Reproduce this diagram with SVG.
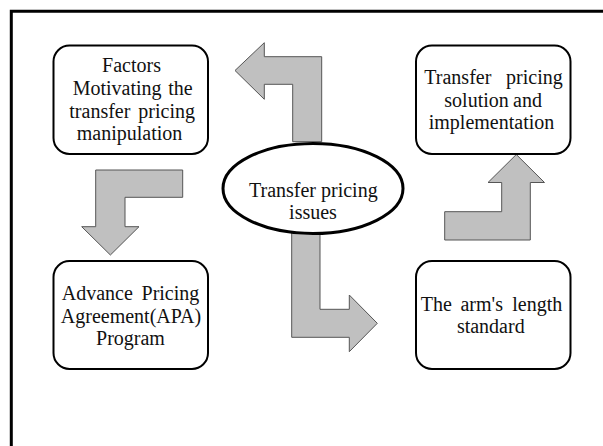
<svg xmlns="http://www.w3.org/2000/svg" width="603" height="446" viewBox="0 0 603 446">
<style>
.box{fill:#fff;stroke:#000;stroke-width:2}
.ell{fill:#fff;stroke:#000;stroke-width:3}
.arr{fill:#c0c0c0;stroke:#555;stroke-width:1;stroke-linejoin:miter}
text{font-family:"Liberation Serif","Times New Roman",serif;font-size:20px;fill:#111}
.m{text-anchor:middle}
.e{text-anchor:end}
.frame{stroke:#000;stroke-width:3;fill:none}
</style>
<rect x="0" y="0" width="603" height="446" fill="#fff"/>
<path class="frame" d="M11.3,446 V11.3 H603"/>
<g id="connectors">
<polygon class="arr" points="321.7,141.7 321.7,56.7 264.3,56.7 264.3,42.7 235,70.5 264.3,99.3 264.3,84.3 292.7,84.3 292.7,141.7"/>
<polygon class="arr" points="182.7,170 95.7,170 95.7,226.7 81.7,226.7 110.4,255 139,226.7 125,226.7 125,197.3 182.7,197.3"/>
<polygon class="arr" points="291.7,228 320,228 320,309.3 349.3,309.3 349.3,295 377.3,323.3 349.3,351.7 349.3,337.3 291.7,337.3"/>
<polygon class="arr" points="444.7,240 530.3,240 530.3,182.5 544.5,182.5 516.3,154.5 488,182.5 501.7,182.5 501.7,211.7 444.7,211.7"/>
</g>
<g id="issues">
<ellipse class="ell" cx="313" cy="188.5" rx="90" ry="45"/>
<text class="m" x="313.3" y="196.5">Transfer pricing</text>
<text class="m" x="313" y="218.5">issues</text>
</g>
<g id="factors">
<rect class="box" x="53.5" y="45.5" width="154.5" height="108.5" rx="16" ry="16"/>
<text class="m" x="131.5" y="72">Factors</text>
<text x="72.7" y="94.5">Motivating</text><text class="e" x="192.7" y="94.5">the</text>
<text x="69.3" y="117.5">transfer</text><text class="e" x="195" y="117.5">pricing</text>
<text class="m" x="129.5" y="140">manipulation</text>
</g>
<g id="solution">
<rect class="box" x="416" y="45.5" width="154.5" height="108.5" rx="16" ry="16"/>
<text x="424.3" y="84">Transfer</text><text class="e" x="562.7" y="84">pricing</text>
<text x="444.3" y="106.5">solution</text><text class="e" x="542" y="106.5">and</text>
<text class="m" x="491.5" y="129">implementation</text>
</g>
<g id="apa">
<rect class="box" x="53.5" y="261" width="154.5" height="108" rx="16" ry="16"/>
<text x="61.7" y="300">Advance</text><text class="e" x="199.3" y="300">Pricing</text>
<text class="m" x="131" y="322.5">Agreement(APA)</text>
<text class="m" x="130.5" y="345">Program</text>
</g>
<g id="armslength">
<rect class="box" x="416" y="261" width="154.5" height="108" rx="16" ry="16"/>
<text x="420.7" y="310.5">The</text><text class="m" x="481.7" y="310.5">arm's</text><text class="e" x="562.3" y="310.5">length</text>
<text class="m" x="490.8" y="333">standard</text>
</g>
</svg>
